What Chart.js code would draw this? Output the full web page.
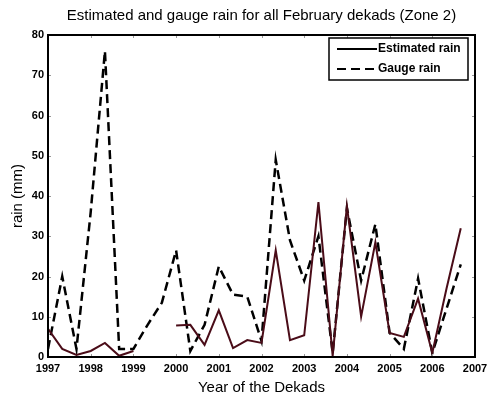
<!DOCTYPE html>
<html>
<head>
<meta charset="utf-8">
<title>Estimated and gauge rain</title>
<script src="https://cdn.jsdelivr.net/npm/chart.js@4/dist/chart.umd.min.js"></script>
<style>
    html, body { margin: 0; padding: 0; background: #fff; }
    #wrap { position: relative; width: 487px; height: 400px; }
</style>
</head>
<body>
<div id="wrap"><canvas id="rainChart" width="487" height="400"></canvas></div>
<script>
// ============================================
// February dekad rainfall, Zone 2
// ============================================

const years = [1997, 1998, 1999, 2000, 2001, 2002, 2003, 2004, 2005, 2006];
const dekadsPerYear = 3;

// one value per dekad (3 per year), null where no estimate exists
const estimatedRain = [
    7, 2, 0.5,
    1.5, 3.5, 0.3,
    1.5, null, null,
    7.8, 8, 3,
    11.6, 2.2, 4.2,
    3.5, 26.5, 4.2,
    5.4, 38.5, 0.3,
    37.5, 10, 28.5,
    6, 5, 14.5,
    1, 17, 32
];

const gaugeRain = [
    2, 20, 2,
    36, 76, 2,
    2, 8, 13.5,
    26.5, 1.5, 8,
    22.5, 15.5, 15,
    4, 49, 29,
    19, 30, 1,
    37, 19, 33,
    6, 2, 19.5,
    1, 12, 23
];

const yTicks = [0, 10, 20, 30, 40, 50, 60, 70, 80];

const FONT = "'Liberation Sans', Arial, sans-serif";

function toPoints(values) {
    const points = [];
    years.forEach((year, i) => {
        for (let d = 0; d < dekadsPerYear; d++) {
            points.push({ x: year + d / dekadsPerYear, y: values[i * dekadsPerYear + d] });
        }
    });
    return points;
}

// frame round the plot plus small inward tick marks
const frameAndTicks = {
    id: "frameAndTicks",
    afterDatasetsDraw(chart) {
        const { ctx, chartArea: a, scales } = chart;
        ctx.save();
        ctx.strokeStyle = "#999";
        ctx.lineWidth = 1;
        scales.x.ticks.forEach((t) => {
            const px = Math.round(scales.x.getPixelForValue(t.value)) + 0.5;
            ctx.beginPath();
            ctx.moveTo(px, a.bottom); ctx.lineTo(px, a.bottom - 3);
            ctx.moveTo(px, a.top); ctx.lineTo(px, a.top + 3);
            ctx.stroke();
        });
        scales.y.ticks.forEach((t) => {
            const py = Math.round(scales.y.getPixelForValue(t.value)) + 0.5;
            ctx.beginPath();
            ctx.moveTo(a.left, py); ctx.lineTo(a.left + 3, py);
            ctx.moveTo(a.right, py); ctx.lineTo(a.right - 3, py);
            ctx.stroke();
        });
        ctx.strokeStyle = "#000";
        ctx.lineWidth = 2;
        ctx.strokeRect(a.left, a.top, a.right - a.left, a.bottom - a.top);
        ctx.restore();
    }
};

// boxed legend in the upper right corner of the plot
const boxLegend = {
    id: "boxLegend",
    afterDraw(chart) {
        const { ctx, chartArea: a } = chart;
        const w = 139, h = 42;
        const x = a.right - w - 7, y = a.top + 3;
        ctx.save();
        ctx.fillStyle = "#fff";
        ctx.fillRect(x, y, w, h);
        ctx.strokeStyle = "#000";
        ctx.lineWidth = 1.5;
        ctx.strokeRect(x, y, w, h);
        ctx.font = "bold 12px " + FONT;
        ctx.textBaseline = "middle";
        chart.data.datasets.forEach((ds, i) => {
            const ly = y + 11 + i * 20;
            ctx.strokeStyle = "#000";
            ctx.lineWidth = 2;
            ctx.setLineDash(ds.borderDash || []);
            ctx.beginPath();
            ctx.moveTo(x + 8, ly);
            ctx.lineTo(x + 48, ly);
            ctx.stroke();
            ctx.setLineDash([]);
            ctx.fillStyle = "#000";
            ctx.fillText(ds.label, x + 49, ly);
        });
        ctx.restore();
    }
};

new Chart(document.getElementById("rainChart"), {
    type: "line",
    data: {
        datasets: [
            {
                label: "Estimated rain",
                data: toPoints(estimatedRain),
                borderColor: "#4a0c18",
                borderWidth: 2,
                pointRadius: 0,
                tension: 0,
                spanGaps: false
            },
            {
                label: "Gauge rain",
                data: toPoints(gaugeRain),
                borderColor: "#000",
                borderWidth: 2.5,
                borderDash: [9, 5],
                pointRadius: 0,
                tension: 0
            }
        ]
    },
    options: {
        responsive: false,
        animation: false,
        layout: { padding: { left: 0, right: 12, top: 0, bottom: 0 } },
        plugins: {
            legend: { display: false },
            tooltip: { enabled: false },
            title: {
                display: true,
                // centre the title over the plot rather than the whole canvas
                fullSize: false,
                text: "Estimated and gauge rain for all February dekads (Zone 2)",
                color: "#000",
                font: { family: FONT, size: 15, weight: "normal" },
                padding: { top: 7, bottom: 10 }
            }
        },
        scales: {
            x: {
                type: "linear",
                min: 1997,
                max: 2007,
                grid: { display: false, drawTicks: false },
                border: { display: false },
                afterFit: (scale) => {
                    scale.height = 43;
                    // let the last year label run off the edge instead of shrinking the plot
                    scale.paddingRight = 0;
                },
                ticks: {
                    stepSize: 1,
                    padding: 5,
                    color: "#000",
                    font: { family: FONT, size: 11, weight: "bold" },
                    callback: (v) => String(v)
                },
                title: {
                    display: true,
                    text: "Year of the Dekads",
                    color: "#000",
                    font: { family: FONT, size: 15 },
                    padding: { top: 0, bottom: 3 }
                }
            },
            y: {
                min: yTicks[0],
                max: yTicks[yTicks.length - 1],
                grid: { display: false, drawTicks: false },
                border: { display: false },
                afterFit: (scale) => { scale.width = 48; },
                afterBuildTicks: (scale) => { scale.ticks = yTicks.map((v) => ({ value: v })); },
                ticks: {
                    padding: 4,
                    color: "#000",
                    font: { family: FONT, size: 11, weight: "bold" }
                },
                title: {
                    display: true,
                    text: "rain (mm)",
                    color: "#000",
                    font: { family: FONT, size: 15 },
                    padding: { top: 9, bottom: 0 }
                }
            }
        }
    },
    plugins: [frameAndTicks, boxLegend]
});
</script>
</body>
</html>
